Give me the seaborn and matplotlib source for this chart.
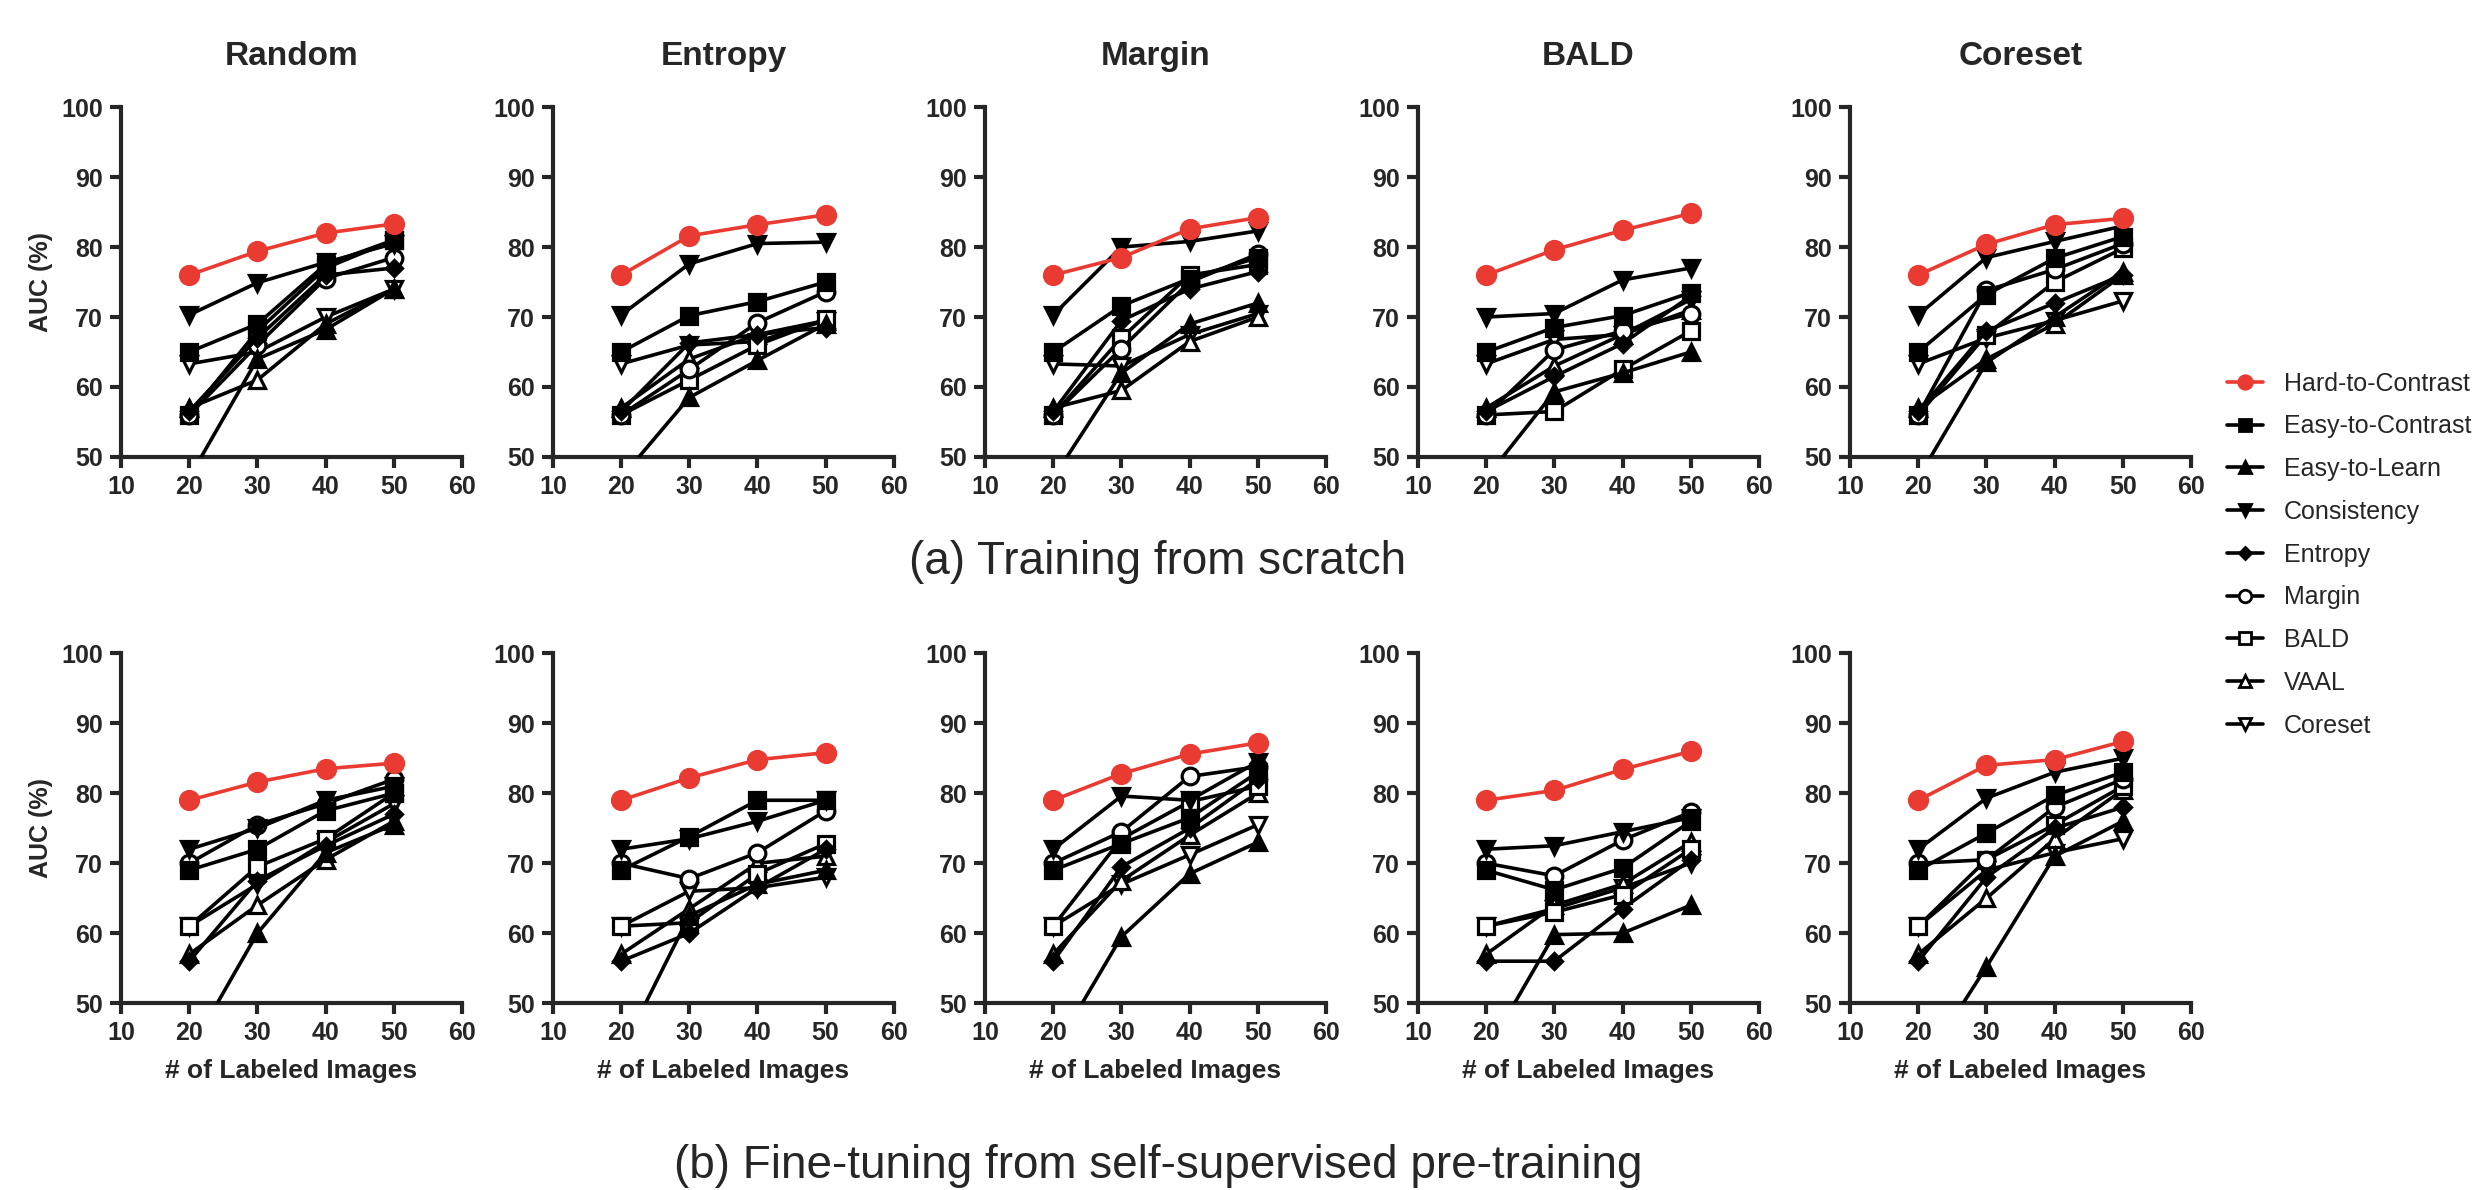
import matplotlib
matplotlib.use('Agg')
import matplotlib.pyplot as plt
from matplotlib.lines import Line2D
import seaborn as sns

# x axis: number of labeled images
labeled = [20, 30, 40, 50]
strategies = ['Random', 'Entropy', 'Margin', 'BALD', 'Coreset']
methods = ['Hard-to-Contrast', 'Easy-to-Contrast', 'Easy-to-Learn', 'Consistency',
           'Entropy', 'Margin', 'BALD', 'VAAL', 'Coreset']

# (a) training from scratch, one row per strategy (Random, Entropy, Margin, BALD, Coreset)
scratch_hard = [[76, 79.4, 82.0, 83.3], [76, 81.6, 83.2, 84.6], [76, 78.5, 82.6, 84.2],
                [76, 79.6, 82.4, 84.8], [76, 80.4, 83.2, 84.1]]
scratch_easy_contrast = [[65, 69.0, 77.5, 81.0], [65, 70.2, 72.2, 75.0], [65, 71.6, 75.5, 78.5],
                         [65, 68.5, 70.2, 73.5], [65, 73.2, 78.4, 81.5]]
scratch_easy_learn = [[47, 64.0, 68.2, 74.0], [47, 58.5, 63.8, 69.0], [47, 62.0, 69.0, 72.0],
                      [47, 59.3, 62.0, 65.0], [47, 63.5, 70.0, 76.5]]
scratch_consistency = [[70.3, 74.9, 77.8, 80.5], [70.3, 77.6, 80.5, 80.7], [70.3, 80.0, 80.8, 82.3],
                       [70.0, 70.5, 75.3, 77.0], [70.3, 78.5, 80.8, 83.0]]
scratch_entropy = [[56.5, 67.0, 76.0, 77.0], [56.5, 66.3, 67.5, 68.5], [56.5, 69.5, 74.0, 76.5],
                   [56.5, 61.5, 66.2, 73.0], [56.5, 68.0, 72.0, 76.0]]
scratch_margin = [[56, 66.0, 75.5, 78.5], [56, 62.5, 69.2, 73.6], [56, 65.5, 75.0, 79.0],
                  [56, 65.3, 68.0, 70.5], [56, 73.8, 76.8, 80.5]]
scratch_bald = [[56, 68.0, 77.0, 81.0], [56, 61.0, 66.0, 69.7], [56, 67.0, 76.0, 77.5],
                [56, 56.5, 62.5, 68.0], [56, 67.5, 75.0, 79.8]]
scratch_vaal = [[57, 61.0, 69.0, 74.0], [57, 64.0, 67.5, 69.5], [57, 59.5, 66.5, 70.0],
                [57, 63.0, 67.5, 71.0], [57, 64.0, 69.0, 76.0]]
scratch_coreset = [[63.3, 65.0, 70.0, 74.0], [63.3, 66.0, 66.5, 69.5], [63.3, 63.0, 67.5, 70.5],
                   [63.3, 66.8, 67.5, 72.5], [63.3, 67.0, 69.5, 72.3]]

# (b) fine-tuning from self-supervised pre-training
ft_hard = [[79, 81.6, 83.5, 84.3], [79, 82.2, 84.8, 85.8], [79, 82.8, 85.6, 87.2],
           [79, 80.4, 83.4, 86.0], [79, 84.0, 84.8, 87.4]]
ft_easy_contrast = [[69, 72.0, 77.5, 80.0], [69, 73.8, 79.0, 79.0], [69, 72.8, 76.5, 83.0],
                    [69, 66.2, 69.3, 76.0], [69, 74.3, 79.7, 83.0]]
ft_easy_learn = [[43, 60.0, 71.5, 75.5], [43, 62.5, 67.0, 69.0], [43, 59.5, 68.5, 73.0],
                 [43, 59.8, 60.0, 64.0], [40, 55.2, 71.0, 76.0]]
ft_consistency = [[72, 75.0, 79.0, 81.0], [72, 73.5, 76.0, 79.0], [72, 79.6, 79.0, 84.5],
                  [72, 72.5, 74.5, 76.5], [72, 79.3, 83.0, 85.0]]
ft_entropy = [[56, 67.5, 72.5, 77.0], [56, 60.0, 66.5, 72.0], [56, 69.5, 75.0, 82.0],
              [56, 56.0, 63.5, 70.5], [56, 68.0, 75.0, 78.0]]
ft_margin = [[70, 75.5, 78.5, 82.0], [70, 67.8, 71.5, 77.5], [70, 74.5, 82.4, 83.8],
             [70, 68.2, 73.3, 77.3], [70, 70.5, 78.0, 82.0]]
ft_bald = [[61, 69.5, 73.5, 80.0], [61, 61.5, 68.5, 72.8], [61, 73.5, 78.8, 81.0],
           [61, 63.0, 65.5, 72.0], [61, 70.5, 75.5, 81.0]]
ft_vaal = [[57, 64.0, 70.5, 76.0], [57, 63.5, 70.0, 71.0], [57, 67.5, 74.0, 80.0],
           [57, 64.0, 67.0, 73.0], [57, 65.0, 73.5, 80.5]]
ft_coreset = [[61, 67.0, 73.0, 78.5], [61, 66.0, 66.5, 68.0], [61, 67.0, 71.2, 75.5],
              [61, 63.5, 66.5, 70.0], [61, 69.0, 71.5, 73.5]]

scratch = [scratch_hard, scratch_easy_contrast, scratch_easy_learn, scratch_consistency,
           scratch_entropy, scratch_margin, scratch_bald, scratch_vaal, scratch_coreset]
finetune = [ft_hard, ft_easy_contrast, ft_easy_learn, ft_consistency,
            ft_entropy, ft_margin, ft_bald, ft_vaal, ft_coreset]

# marker styles (marker, filled, size)
red = '#EA3B33'
styles = [('o', True, 13), ('s', True, 12), ('^', True, 12), ('v', True, 12),
          ('D', True, 8), ('o', False, 12), ('s', False, 12), ('^', False, 12), ('v', False, 12)]

sns.set_theme(style='ticks')
plt.rcParams['font.family'] = ['Liberation Sans', 'DejaVu Sans']

fig = plt.figure(figsize=(24.85, 11.9), dpi=100)

lefts = [0.0487, 0.2225, 0.3964, 0.5706, 0.7445]
width = 0.1372
height = 0.294
bottoms = [0.616, 0.157]


def draw_panel(ax, data, k):
    for m, name in enumerate(methods):
        marker, filled, ms = styles[m]
        color = red if m == 0 else 'black'
        sns.lineplot(x=labeled, y=data[m][k], ax=ax, color=color, marker=marker,
                     markersize=ms, markeredgewidth=2.3, markeredgecolor=color,
                     markerfacecolor=color if filled else 'white',
                     linewidth=2.6, zorder=10 if m == 0 else 3 + (8 - m) * 0.1)
    ax.set_xlim(10, 60)
    ax.set_ylim(50, 100)
    ax.set_xticks(range(10, 61, 10))
    ax.set_yticks(range(50, 101, 10))
    for s in ['top', 'right']:
        ax.spines[s].set_visible(False)
    for s in ['left', 'bottom']:
        ax.spines[s].set_linewidth(3)
    ax.tick_params(direction='out', length=8, width=3, labelsize=18, pad=5)
    for lab in ax.get_xticklabels() + ax.get_yticklabels():
        lab.set_fontweight('bold')
    ax.set_xlabel('')
    ax.set_ylabel('')


for row, data in enumerate([scratch, finetune]):
    for k, strat in enumerate(strategies):
        ax = fig.add_axes([lefts[k], bottoms[row], width, height])
        draw_panel(ax, data, k)
        if row == 0:
            ax.set_title(strat, fontsize=24, fontweight='bold', pad=30)
        else:
            ax.set_xlabel('# of Labeled Images', fontsize=19, fontweight='bold', labelpad=10)
        if k == 0:
            ax.set_ylabel('AUC (%)', fontsize=18, fontweight='bold', labelpad=6)

fig.text(0.466, 1 - 562 / 1190, '(a) Training from scratch', ha='center', va='center', fontsize=33)
fig.text(0.466, 0.002, '(b) Fine-tuning from self-supervised pre-training',
         ha='center', va='bottom', fontsize=33)

handles = []
for m, name in enumerate(methods):
    marker, filled, ms = styles[m]
    color = red if m == 0 else 'black'
    handles.append(Line2D([], [], color=color, marker=marker, markersize=ms * 0.75,
                          markeredgewidth=2, markeredgecolor=color,
                          markerfacecolor=color if filled else 'white', linewidth=2.6))
fig.legend(handles, methods, loc='center left', bbox_to_anchor=(0.896, 0.534),
           frameon=False, fontsize=18, handlelength=1.45, handletextpad=0.85,
           labelspacing=0.75, borderpad=0, borderaxespad=0)

fig.savefig('out.png', dpi=100)
